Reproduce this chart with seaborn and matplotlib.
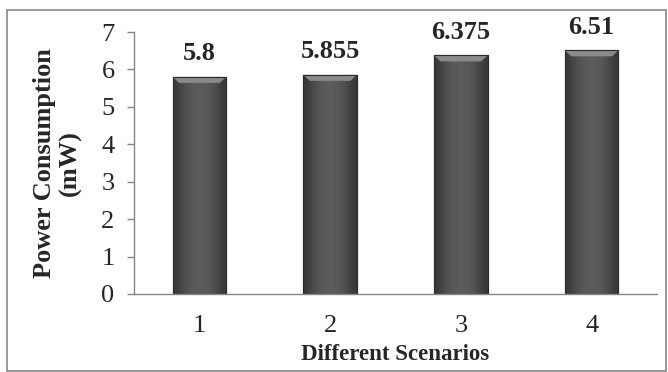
import numpy as np
import pandas as pd
import matplotlib
matplotlib.use("Agg")
import matplotlib.pyplot as plt
import seaborn as sns
from matplotlib.patches import Rectangle, Polygon

scenarios = ["1", "2", "3", "4"]
power = [5.8, 5.855, 6.375, 6.51]
value_labels = ["5.8", "5.855", "6.375", "6.51"]
yticks = [0, 1, 2, 3, 4, 5, 6, 7]

df = pd.DataFrame({"Scenario": scenarios, "Power": power})

sns.set_style("white")
plt.rcParams["font.family"] = ["Liberation Serif", "DejaVu Serif"]

fig = plt.figure(figsize=(6.68, 3.72), dpi=100)
ax = fig.add_axes([134 / 668, 1 - 294 / 372, (657 - 134) / 668, (294 - 32) / 372])

sns.barplot(data=df, x="Scenario", y="Power", color="#555555", width=0.41,
            edgecolor="#2b2b2b", linewidth=0.8, ax=ax, saturation=1)

# bevel-like shading on bars
grad = np.array([[0.22, 0.31, 0.35, 0.36, 0.35, 0.31, 0.22]])
for p in ax.patches:
    x0, y0 = p.get_x(), p.get_y()
    w, h = p.get_width(), p.get_height()
    im = ax.imshow(grad, cmap="gray", vmin=0, vmax=1, aspect="auto",
                   extent=[x0, x0 + w, y0, y0 + h], zorder=p.get_zorder() + 0.1,
                   interpolation="bicubic")
    im.set_clip_path(p)
    bev = 0.16
    top = Polygon([[x0, y0 + h], [x0 + w, y0 + h], [x0 + w * 0.88, y0 + h - bev],
                   [x0 + w * 0.12, y0 + h - bev]], closed=True,
                  facecolor="#8a8a8a", edgecolor="none", zorder=p.get_zorder() + 0.2)
    ax.add_patch(top)
    edge = Rectangle((x0, y0), w, h, facecolor="none", edgecolor="#2b2b2b",
                     linewidth=0.8, zorder=p.get_zorder() + 0.3)
    ax.add_patch(edge)

ax.set_xlim(-0.5, 3.5)
ax.set_ylim(0, 7)
ax.set_yticks(yticks)
ax.set_yticklabels([str(t) for t in yticks], fontsize=19)
ax.set_xticks(range(len(scenarios)))
ax.set_xticklabels(scenarios, fontsize=19)
ax.set_xticks(np.arange(-0.5, 4.0, 1.0), minor=True)
ax.tick_params(axis="x", which="major", length=0, pad=15)
ax.tick_params(axis="x", which="minor", length=5, width=1, color="#868686", direction="out")
ax.tick_params(axis="y", length=5, width=1, color="#868686", direction="out", pad=9,
               left=True)

for s in ["top", "right"]:
    ax.spines[s].set_visible(False)
for s in ["left", "bottom"]:
    ax.spines[s].set_color("#868686")
    ax.spines[s].set_linewidth(1)

ax.set_xlabel("Different Scenarios", fontsize=16.5, fontweight="bold", labelpad=5)
ax.set_ylabel("Power Consumption\n(mW)", fontsize=19, fontweight="bold", labelpad=14,
              linespacing=1.15)

for i, (v, lab) in enumerate(zip(power, value_labels)):
    ax.annotate(lab, (i, v), xytext=(0, 12), textcoords="offset points",
                ha="center", va="baseline", fontsize=19, fontweight="bold",
                annotation_clip=False)

fig.patches.append(Rectangle((7 / 668, 1 / 372), 659 / 668, (371 - 10) / 372 - 0.001,
                             transform=fig.transFigure, fill=False,
                             edgecolor="#868686", linewidth=1.2))

fig.savefig("out.png", dpi=100)
